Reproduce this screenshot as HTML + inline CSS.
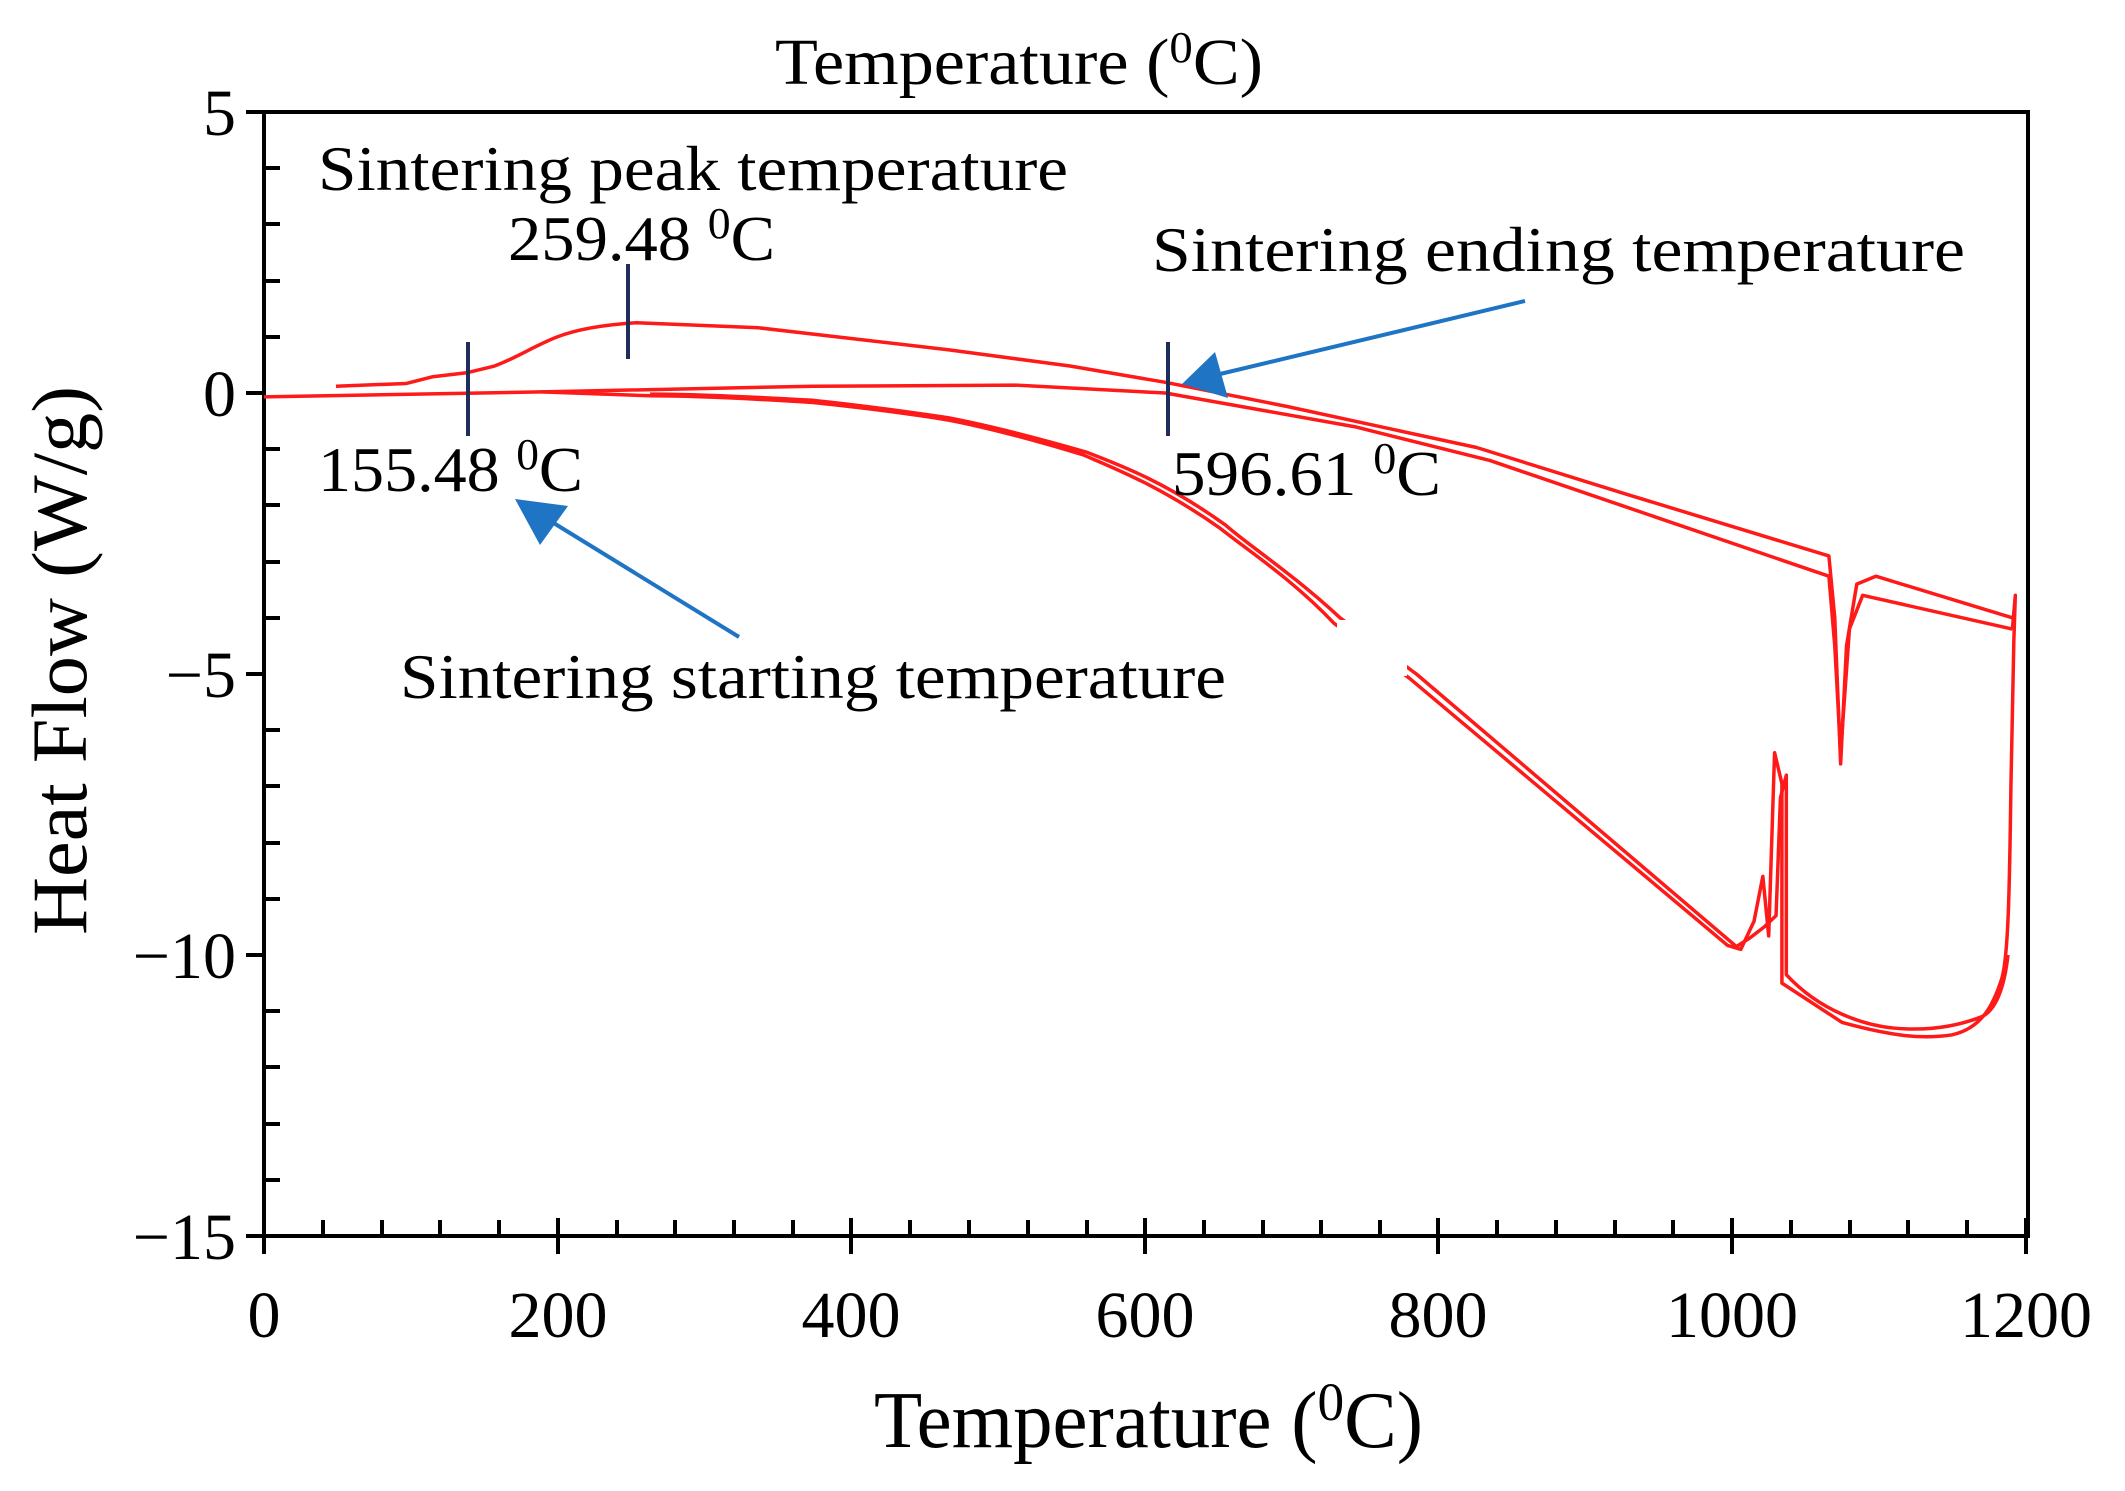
<!DOCTYPE html>
<html><head><meta charset="utf-8"><style>
html,body{margin:0;padding:0;background:#fff;}
svg{display:block;font-family:"Liberation Serif",serif;}
</style></head><body>
<svg width="2125" height="1491" viewBox="0 0 2125 1491" xmlns="http://www.w3.org/2000/svg">
<rect width="2125" height="1491" fill="#fff"/>
<rect x="264" y="112" width="1764" height="1124" fill="none" stroke="#000" stroke-width="4"/>
<g stroke="#000" stroke-width="4">
<line x1="246" y1="112" x2="264" y2="112"/><line x1="246" y1="393" x2="264" y2="393"/><line x1="246" y1="674" x2="264" y2="674"/><line x1="246" y1="955" x2="264" y2="955"/><line x1="246" y1="1236" x2="264" y2="1236"/>
<line x1="264" y1="1218" x2="264" y2="1254"/><line x1="558" y1="1218" x2="558" y2="1254"/><line x1="851" y1="1218" x2="851" y2="1254"/><line x1="1145" y1="1218" x2="1145" y2="1254"/><line x1="1438" y1="1218" x2="1438" y2="1254"/><line x1="1732" y1="1218" x2="1732" y2="1254"/><line x1="2026" y1="1218" x2="2026" y2="1254"/>
</g>
<g stroke="#000" stroke-width="4">
<line x1="264" y1="168" x2="280" y2="168"/><line x1="264" y1="224" x2="280" y2="224"/><line x1="264" y1="281" x2="280" y2="281"/><line x1="264" y1="337" x2="280" y2="337"/>
<line x1="264" y1="449" x2="280" y2="449"/><line x1="264" y1="505" x2="280" y2="505"/><line x1="264" y1="562" x2="280" y2="562"/><line x1="264" y1="618" x2="280" y2="618"/>
<line x1="264" y1="730" x2="280" y2="730"/><line x1="264" y1="786" x2="280" y2="786"/><line x1="264" y1="843" x2="280" y2="843"/><line x1="264" y1="899" x2="280" y2="899"/>
<line x1="264" y1="1011" x2="280" y2="1011"/><line x1="264" y1="1067" x2="280" y2="1067"/><line x1="264" y1="1124" x2="280" y2="1124"/><line x1="264" y1="1180" x2="280" y2="1180"/>
<path d="M323 1236v-16M382 1236v-16M440 1236v-16M499 1236v-16M617 1236v-16M675 1236v-16M734 1236v-16M793 1236v-16M910 1236v-16M969 1236v-16M1028 1236v-16M1087 1236v-16M1204 1236v-16M1263 1236v-16M1321 1236v-16M1380 1236v-16M1497 1236v-16M1556 1236v-16M1615 1236v-16M1673 1236v-16M1791 1236v-16M1850 1236v-16M1908 1236v-16M1967 1236v-16" fill="none"/>
</g>
<g font-size="66" fill="#000" text-anchor="end">
<text x="236" y="135">5</text><text x="236" y="416">0</text><text x="236" y="697">−5</text><text x="236" y="978">−10</text><text x="236" y="1259">−15</text>
</g>
<g font-size="66" fill="#000" text-anchor="middle">
<text x="264" y="1337">0</text><text x="558" y="1337">200</text><text x="851" y="1337">400</text><text x="1145" y="1337">600</text><text x="1438" y="1337">800</text><text x="1732" y="1337">1000</text><text x="2026" y="1337">1200</text>
</g>
<text x="775" y="84" font-size="66" textLength="488" lengthAdjust="spacingAndGlyphs">Temperature (<tspan font-size="44" dy="-22">0</tspan><tspan dy="22">C)</tspan></text>
<text x="874" y="1447" font-size="80" textLength="549" lengthAdjust="spacingAndGlyphs">Temperature (<tspan font-size="54" dy="-27">0</tspan><tspan dy="27">C)</tspan></text>
<text transform="translate(86,935) rotate(-90)" font-size="78" textLength="549" lengthAdjust="spacingAndGlyphs">Heat Flow (W/g)</text>
<g transform="translate(264,393) scale(1.468,-56.2)" fill="none" stroke="#ff1a1a" stroke-width="3.5" stroke-linejoin="round">
<path vector-effect="non-scaling-stroke" d="M49 0.12 L97 0.17 L115 0.29 L138 0.36 L157 0.48 C170 0.6 185 0.85 200 1.0 C215 1.15 235 1.22 254 1.25 L337 1.16 L466 0.77 L549 0.48 L614 0.19 L697 -0.24 L826 -0.97 L928 -1.8 L1066 -2.9 L1070 -4 L1074 -6.6 L1078 -4.5 L1085 -3.4 L1098 -3.26 L1191 -4.0"/>
<path vector-effect="non-scaling-stroke" d="M0 -0.07 L189 0.02 L374 0.12 L512 0.14 L614 0 L743 -0.6 L835 -1.2 L1066 -3.26 L1070 -4.5 L1074 -6.4 L1080 -4.2 L1089 -3.6 L1191 -4.2"/>
<path vector-effect="non-scaling-stroke" d="M1191 -4.2 L1193 -3.6 L1192 -4.4 L1190 -7 C1189 -9 1188 -10 1184 -10.4 C1178 -10.9 1170 -11.3 1150 -11.42 C1130 -11.5 1110 -11.45 1075 -11.2 L1034 -10.5 L1034 -6.95 L1029 -6.4 L1025 -9.66 L1021 -8.6 L1015 -9.4 L1006 -9.9 L997 -9.83 L780 -5.07 L729 -4.1 C700 -3.3 670 -2.8 651 -2.4 C610 -1.65 580 -1.35 558 -1.1 C520 -0.8 490 -0.6 466 -0.48 C430 -0.33 400 -0.24 374 -0.17 C320 -0.08 290 -0.05 263 -0.05 L189 0.02"/>
<path vector-effect="non-scaling-stroke" d="M1188 -10 C1185 -10.7 1178 -11 1170 -11.1 C1150 -11.3 1130 -11.35 1110 -11.3 C1090 -11.25 1060 -11.0 1037 -10.35 L1037 -6.8 L1033 -7.2 L1030 -9.3 L1022 -9.5 L1012 -9.7 L1003 -9.85 L785 -5.0 L733 -4.0 C700 -3.2 670 -2.7 655 -2.35 C615 -1.6 585 -1.3 560 -1.05 C520 -0.75 490 -0.56 466 -0.44 C430 -0.3 400 -0.2 374 -0.13 C320 -0.05 290 -0.02 263 -0.02"/>
</g>
<rect x="1337" y="620" width="70" height="56" fill="#fff"/>
<g stroke="#1f2d5a" stroke-width="4">
<line x1="468" y1="342" x2="468" y2="436"/>
<line x1="628" y1="264" x2="628" y2="359"/>
<line x1="1168" y1="342" x2="1168" y2="436"/>
</g>
<g stroke="#1f74c4" stroke-width="4" fill="#1f74c4">
<line x1="1525" y1="301" x2="1220" y2="374"/>
<polygon points="1182,384 1215,352 1228,398" stroke="none"/>
<line x1="739" y1="637" x2="552" y2="522"/>
<polygon points="515,499 568,506 540,545" stroke="none"/>
</g>
<g font-size="64" fill="#000">
<text x="318" y="190" textLength="750" lengthAdjust="spacingAndGlyphs">Sintering peak temperature</text>
<text x="508" y="260" textLength="267" lengthAdjust="spacingAndGlyphs">259.48  <tspan font-size="44" dy="-22">0</tspan><tspan dy="22">C</tspan></text>
<text x="1152" y="271" textLength="813" lengthAdjust="spacingAndGlyphs">Sintering ending temperature</text>
<text x="318" y="491" textLength="265" lengthAdjust="spacingAndGlyphs">155.48  <tspan font-size="44" dy="-22">0</tspan><tspan dy="22">C</tspan></text>
<text x="1172" y="495" textLength="269" lengthAdjust="spacingAndGlyphs">596.61  <tspan font-size="44" dy="-22">0</tspan><tspan dy="22">C</tspan></text>
<text x="400" y="698" textLength="826" lengthAdjust="spacingAndGlyphs">Sintering starting temperature</text>
</g>
</svg>
</body></html>
